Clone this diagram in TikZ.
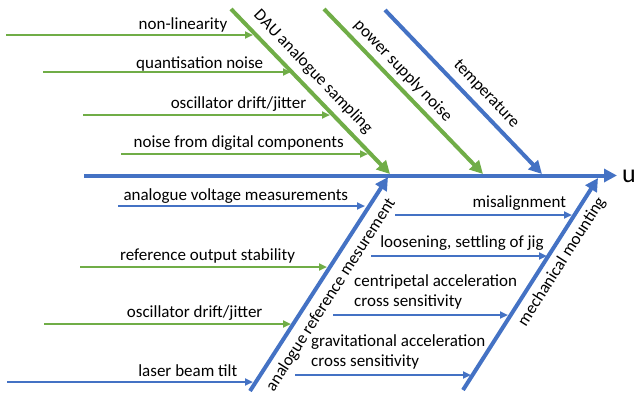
\documentclass[tikz,border=0pt]{standalone}
\usepackage{fontspec}
\setmainfont{Carlito}
\usetikzlibrary{arrows.meta}
\definecolor{bonegreen}{RGB}{112,173,71}
\definecolor{boneblue}{RGB}{68,114,196}
\begin{document}
\begin{tikzpicture}[x=1pt,y=-1pt,
  bone/.style={line width=4pt, -{Triangle[length=13pt,width=13pt]}},
  twig/.style={line width=2pt, -{Triangle[length=8pt,width=7pt]}},
  lbl/.style={inner sep=0pt, font=\fontsize{17}{20}\selectfont},
  hlbl/.style={lbl, anchor=base},
  ]
\useasboundingbox (0,0) rectangle (636,397);

% spine and effect
\coordinate (s0) at (84,175.5);
\coordinate (s1) at (617,175.5);
\draw[bone, boneblue] (s0) -- (s1);
\node[lbl, anchor=base west, font=\fontsize{26}{30}\selectfont] (effect) at (622,182.5) {u};

% main bones above the spine
\coordinate (dau0) at (231,9);   \coordinate (dau1) at (390,174);
\coordinate (psn0) at (324,9);   \coordinate (psn1) at (483,174);
\coordinate (tmp0) at (385,10);  \coordinate (tmp1) at (542,174);
\draw[bone, bonegreen] (dau0) -- (dau1);
\draw[bone, bonegreen] (psn0) -- (psn1);
\draw[bone, boneblue]  (tmp0) -- (tmp1);
\node[lbl, rotate=-46.2] (daulbl) at (313,72) {DAU analogue sampling};
\node[lbl, rotate=-46.2] (psnlbl) at (403,71) {power supply noise};
\node[lbl, rotate=-46.4] (tmplbl) at (486,94) {temperature};

% main bones below the spine
\coordinate (arm0) at (250,391); \coordinate (arm1) at (388,177);
\coordinate (mech0) at (463,390); \coordinate (mech1) at (598,178);
\draw[bone, boneblue] (arm0) -- (arm1);
\draw[bone, boneblue] (mech0) -- (mech1);
\node[lbl, rotate=57.3] (armlbl) at (331,295) {analogue reference mesurement};
\node[lbl, rotate=57.5] (mechlbl) at (562,262) {mechanical mounting};

% causes of DAU analogue sampling
\coordinate (c1a) at (6,35);    \coordinate (c1b) at (253,35);
\coordinate (c2a) at (43,72);   \coordinate (c2b) at (291,72);
\coordinate (c3a) at (83,115);  \coordinate (c3b) at (330,115);
\coordinate (c4a) at (121,154); \coordinate (c4b) at (368,154);
\draw[twig, bonegreen] (c1a) -- (c1b);
\draw[twig, bonegreen] (c2a) -- (c2b);
\draw[twig, bonegreen] (c3a) -- (c3b);
\draw[twig, bonegreen] (c4a) -- (c4b);
\node[hlbl] (c1l) at (183,29.5) {non-linearity};
\node[hlbl] (c2l) at (199.7,68.3) {quantisation noise};
\node[hlbl] (c3l) at (238.5,108.3) {oscillator drift/jitter};
\node[hlbl] (c4l) at (238.7,147.3) {noise from digital components};

% causes of analogue reference measurement
\coordinate (r1a) at (118,206); \coordinate (r1b) at (365,206);
\coordinate (r2a) at (80,267);  \coordinate (r2b) at (327,267);
\coordinate (r3a) at (44,324);  \coordinate (r3b) at (291,324);
\coordinate (r4a) at (7,382);   \coordinate (r4b) at (253,382);
\draw[twig, boneblue]  (r1a) -- (r1b);
\draw[twig, bonegreen] (r2a) -- (r2b);
\draw[twig, bonegreen] (r3a) -- (r3b);
\draw[twig, boneblue]  (r4a) -- (r4b);
\node[hlbl] (r1l) at (235.8,200.7) {analogue voltage measurements};
\node[hlbl] (r2l) at (207.5,260) {reference output stability};
\node[hlbl] (r3l) at (194.7,317.7) {oscillator drift/jitter};
\node[hlbl] (r4l) at (187.8,376) {laser beam tilt};

% causes of mechanical mounting
\coordinate (m1a) at (395,215); \coordinate (m1b) at (572,215);
\coordinate (m2a) at (371,256); \coordinate (m2b) at (547,256);
\coordinate (m3a) at (333,315); \coordinate (m3b) at (508,315);
\coordinate (m4a) at (295,375); \coordinate (m4b) at (471,375);
\draw[twig, boneblue] (m1a) -- (m1b);
\draw[twig, boneblue] (m2a) -- (m2b);
\draw[twig, boneblue] (m3a) -- (m3b);
\draw[twig, boneblue] (m4a) -- (m4b);
\node[hlbl] (m1l) at (519.3,207.7) {misalignment};
\node[hlbl] (m2l) at (462,247.3) {loosening, settling of jig};
% two-line labels: the base anchor sits on the last line
\node[lbl, anchor=base west, align=left] (m3l) at (354,306.7) {centripetal acceleration\\cross sensitivity};
\node[lbl, anchor=base west, align=left] (m4l) at (311,366) {gravitational acceleration\\cross sensitivity};
\end{tikzpicture}
\end{document}
